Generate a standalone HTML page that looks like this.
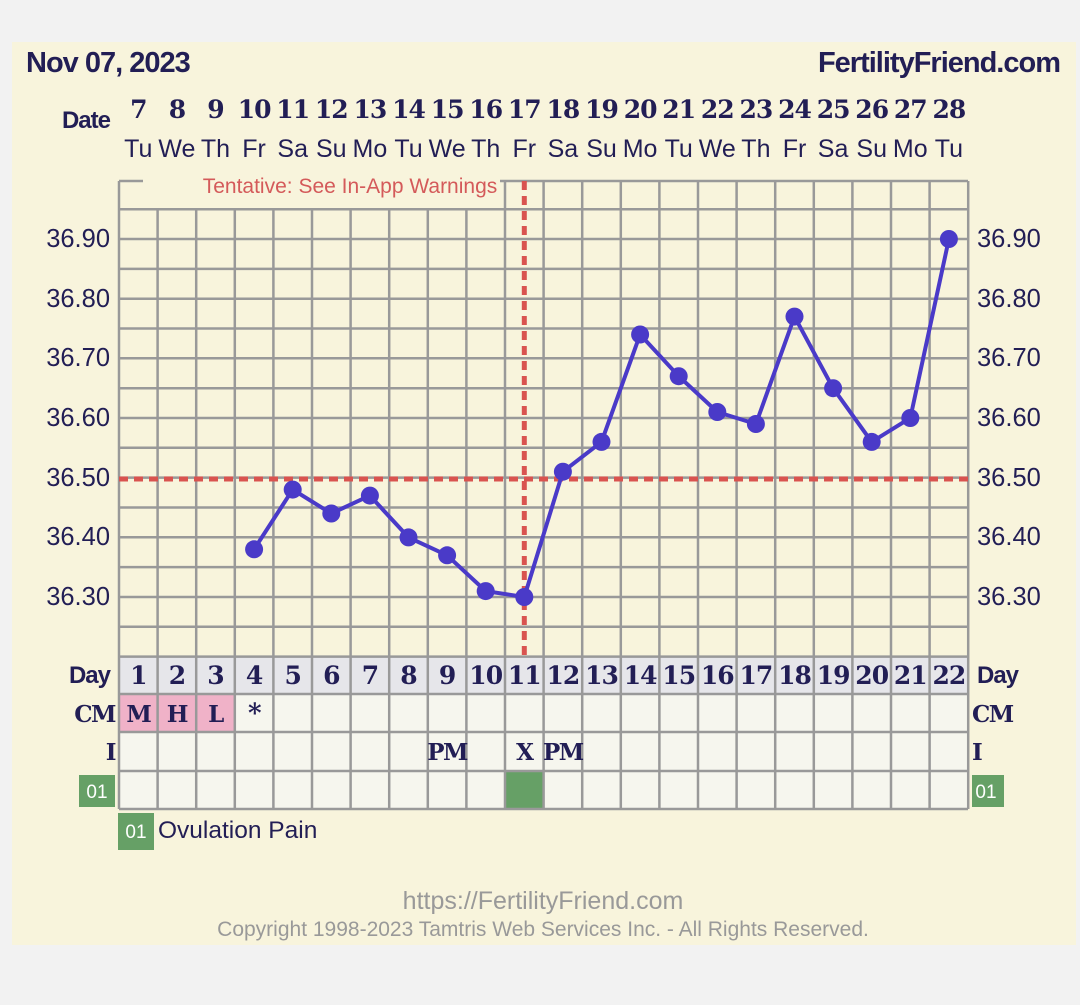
<!DOCTYPE html><html><head><meta charset="utf-8"><style>body{margin:0;background:#f2f2f2}svg{display:block}</style></head><body>
<svg width="1080" height="1005" viewBox="0 0 1080 1005" xmlns="http://www.w3.org/2000/svg" font-family="Liberation Sans, sans-serif">
<rect x="0" y="0" width="1080" height="1005" fill="#f2f2f2"/>
<rect x="12" y="42" width="1064" height="903" fill="#f8f4dc"/>
<g fill="#221e55" font-weight="bold">
<text x="26" y="72" font-size="29" letter-spacing="-1">Nov 07, 2023</text>
<text x="1060" y="72" font-size="29" text-anchor="end" letter-spacing="-1">FertilityFriend.com</text>
<text x="110" y="128" font-size="24" text-anchor="end" letter-spacing="-1">Date</text>
</g>
<g fill="#221e55" font-weight="bold" font-size="25" text-anchor="middle" font-family="DejaVu Serif, Liberation Serif, serif" letter-spacing="-1">
<text x="138.3" y="118">7</text><text x="176.9" y="118">8</text><text x="215.5" y="118">9</text><text x="254.1" y="118">10</text><text x="292.7" y="118">11</text><text x="331.3" y="118">12</text><text x="369.9" y="118">13</text><text x="408.5" y="118">14</text><text x="447.1" y="118">15</text><text x="485.7" y="118">16</text><text x="524.3" y="118">17</text><text x="562.9" y="118">18</text><text x="601.5" y="118">19</text><text x="640.1" y="118">20</text><text x="678.7" y="118">21</text><text x="717.3" y="118">22</text><text x="755.9" y="118">23</text><text x="794.5" y="118">24</text><text x="833.1" y="118">25</text><text x="871.7" y="118">26</text><text x="910.3" y="118">27</text><text x="948.9" y="118">28</text>
</g>
<g fill="#221e55" font-size="25" text-anchor="middle">
<text x="138.3" y="157">Tu</text><text x="176.9" y="157">We</text><text x="215.5" y="157">Th</text><text x="254.1" y="157">Fr</text><text x="292.7" y="157">Sa</text><text x="331.3" y="157">Su</text><text x="369.9" y="157">Mo</text><text x="408.5" y="157">Tu</text><text x="447.1" y="157">We</text><text x="485.7" y="157">Th</text><text x="524.3" y="157">Fr</text><text x="562.9" y="157">Sa</text><text x="601.5" y="157">Su</text><text x="640.1" y="157">Mo</text><text x="678.7" y="157">Tu</text><text x="717.3" y="157">We</text><text x="755.9" y="157">Th</text><text x="794.5" y="157">Fr</text><text x="833.1" y="157">Sa</text><text x="871.7" y="157">Su</text><text x="910.3" y="157">Mo</text><text x="948.9" y="157">Tu</text>
</g>
<rect x="119" y="656" width="849" height="38" fill="#e6e6ea"/>
<rect x="119" y="694" width="849" height="115" fill="#f6f6ee"/>
<rect x="119" y="694" width="115.8" height="38" fill="#f0b2c8"/>
<rect x="505" y="771" width="38.6" height="38" fill="#66a066"/>
<g stroke="#999" stroke-width="2.5">
<line x1="119" y1="181" x2="143" y2="181"/>
<line x1="500" y1="181" x2="968" y2="181"/>
<line x1="119" y1="209.2" x2="968" y2="209.2"/><line x1="119" y1="239" x2="968" y2="239"/><line x1="119" y1="268.9" x2="968" y2="268.9"/><line x1="119" y1="298.7" x2="968" y2="298.7"/><line x1="119" y1="328.5" x2="968" y2="328.5"/><line x1="119" y1="358.3" x2="968" y2="358.3"/><line x1="119" y1="388.2" x2="968" y2="388.2"/><line x1="119" y1="418" x2="968" y2="418"/><line x1="119" y1="447.8" x2="968" y2="447.8"/><line x1="119" y1="477.6" x2="968" y2="477.6"/><line x1="119" y1="507.5" x2="968" y2="507.5"/><line x1="119" y1="537.3" x2="968" y2="537.3"/><line x1="119" y1="567.1" x2="968" y2="567.1"/><line x1="119" y1="597" x2="968" y2="597"/><line x1="119" y1="626.8" x2="968" y2="626.8"/><line x1="119" y1="656.6" x2="968" y2="656.6"/>
<line x1="119" y1="694" x2="968" y2="694"/><line x1="119" y1="732" x2="968" y2="732"/><line x1="119" y1="771" x2="968" y2="771"/><line x1="119" y1="809" x2="968" y2="809"/>
<line x1="119" y1="181" x2="119" y2="809"/>
<line x1="157.6" y1="209" x2="157.6" y2="809"/><line x1="196.2" y1="209" x2="196.2" y2="809"/><line x1="234.8" y1="209" x2="234.8" y2="809"/><line x1="273.4" y1="209" x2="273.4" y2="809"/><line x1="312" y1="209" x2="312" y2="809"/><line x1="350.6" y1="209" x2="350.6" y2="809"/><line x1="389.2" y1="209" x2="389.2" y2="809"/><line x1="427.8" y1="209" x2="427.8" y2="809"/><line x1="466.4" y1="209" x2="466.4" y2="809"/>
<line x1="505" y1="181" x2="505" y2="809"/><line x1="543.6" y1="181" x2="543.6" y2="809"/><line x1="582.2" y1="181" x2="582.2" y2="809"/><line x1="620.8" y1="181" x2="620.8" y2="809"/><line x1="659.4" y1="181" x2="659.4" y2="809"/><line x1="698" y1="181" x2="698" y2="809"/><line x1="736.6" y1="181" x2="736.6" y2="809"/><line x1="775.2" y1="181" x2="775.2" y2="809"/><line x1="813.8" y1="181" x2="813.8" y2="809"/><line x1="852.4" y1="181" x2="852.4" y2="809"/><line x1="891" y1="181" x2="891" y2="809"/><line x1="929.6" y1="181" x2="929.6" y2="809"/><line x1="968.2" y1="181" x2="968.2" y2="809"/>
</g>
<text x="350" y="193" font-size="21" fill="#d45a5a" text-anchor="middle">Tentative: See In-App Warnings</text>
<g stroke="#d9534f" stroke-width="5" stroke-dasharray="9,6">
<line x1="524.3" y1="181" x2="524.3" y2="656"/>
<line x1="119" y1="479" x2="968" y2="479"/>
</g>
<g fill="#221e55" font-size="25.5">
<g text-anchor="end">
<text x="110" y="247">36.90</text><text x="110" y="307">36.80</text><text x="110" y="366">36.70</text><text x="110" y="426">36.60</text><text x="110" y="486">36.50</text><text x="110" y="545">36.40</text><text x="110" y="605">36.30</text>
</g>
<text x="977" y="247">36.90</text><text x="977" y="307">36.80</text><text x="977" y="366">36.70</text><text x="977" y="426">36.60</text><text x="977" y="486">36.50</text><text x="977" y="545">36.40</text><text x="977" y="605">36.30</text>
</g>
<polyline fill="none" stroke="#4a3ac8" stroke-width="4" stroke-linejoin="round" points="254.1,549.3 292.7,489.6 331.3,513.5 369.9,495.6 408.5,537.4 447.1,555.3 485.7,591.1 524.3,597 562.9,471.7 601.5,441.9 640.1,334.5 678.7,376.2 717.3,412 755.9,424 794.5,316.6 833.1,388.2 871.7,441.9 910.3,418 948.9,239"/>
<g fill="#4a3ac8">
<circle cx="254.1" cy="549.3" r="9"/><circle cx="292.7" cy="489.6" r="9"/><circle cx="331.3" cy="513.5" r="9"/><circle cx="369.9" cy="495.6" r="9"/><circle cx="408.5" cy="537.4" r="9"/><circle cx="447.1" cy="555.3" r="9"/><circle cx="485.7" cy="591.1" r="9"/><circle cx="524.3" cy="597" r="9"/><circle cx="562.9" cy="471.7" r="9"/><circle cx="601.5" cy="441.9" r="9"/><circle cx="640.1" cy="334.5" r="9"/><circle cx="678.7" cy="376.2" r="9"/><circle cx="717.3" cy="412" r="9"/><circle cx="755.9" cy="424" r="9"/><circle cx="794.5" cy="316.6" r="9"/><circle cx="833.1" cy="388.2" r="9"/><circle cx="871.7" cy="441.9" r="9"/><circle cx="910.3" cy="418" r="9"/><circle cx="948.9" cy="239" r="9"/>
</g>
<g fill="#221e55" font-weight="bold" font-size="24" letter-spacing="-1">
<text x="110" y="683" text-anchor="end">Day</text>
<text x="977" y="683">Day</text>
</g>
<g fill="#221e55" font-weight="bold" font-size="25" text-anchor="middle" letter-spacing="-1" font-family="DejaVu Serif, Liberation Serif, serif">
<text x="138.3" y="684">1</text><text x="176.9" y="684">2</text><text x="215.5" y="684">3</text><text x="254.1" y="684">4</text><text x="292.7" y="684">5</text><text x="331.3" y="684">6</text><text x="369.9" y="684">7</text><text x="408.5" y="684">8</text><text x="447.1" y="684">9</text><text x="485.7" y="684">10</text><text x="524.3" y="684">11</text><text x="562.9" y="684">12</text><text x="601.5" y="684">13</text><text x="640.1" y="684">14</text><text x="678.7" y="684">15</text><text x="717.3" y="684">16</text><text x="755.9" y="684">17</text><text x="794.5" y="684">18</text><text x="833.1" y="684">19</text><text x="871.7" y="684">20</text><text x="910.3" y="684">21</text><text x="948.9" y="684">22</text>
</g>
<g fill="#221e55" font-weight="bold" font-size="23" font-family="DejaVu Serif, Liberation Serif, serif" letter-spacing="-1.5">
<text x="115" y="722" text-anchor="end">CM</text><text x="972" y="722">CM</text>
<text x="115" y="760" text-anchor="end">I</text><text x="972" y="760">I</text>
<g text-anchor="middle">
<text x="138.3" y="722">M</text><text x="176.9" y="722">H</text><text x="215.5" y="722">L</text><text x="254.1" y="722" font-size="26">*</text>
<text x="447.1" y="760">PM</text><text x="524.3" y="760">X</text><text x="562.9" y="760">PM</text>
</g>
</g>
<rect x="79" y="775" width="36" height="32" fill="#66a066"/>
<text x="97" y="798" font-size="19" fill="#fff" text-anchor="middle">01</text>
<rect x="972" y="775" width="32" height="32" fill="#66a066"/>
<text x="986" y="798" font-size="19" fill="#fff" text-anchor="middle">01</text>
<rect x="118" y="813" width="36" height="37" fill="#66a066"/>
<text x="136" y="838" font-size="19" fill="#fff" text-anchor="middle">01</text>
<text x="158" y="838" font-size="24.5" fill="#221e55">Ovulation Pain</text>
<text x="543" y="909" font-size="25" fill="#999" text-anchor="middle">https://FertilityFriend.com</text>
<text x="543" y="936" font-size="21" fill="#999" text-anchor="middle">Copyright 1998-2023 Tamtris Web Services Inc. - All Rights Reserved.</text>
</svg>
</body></html>
